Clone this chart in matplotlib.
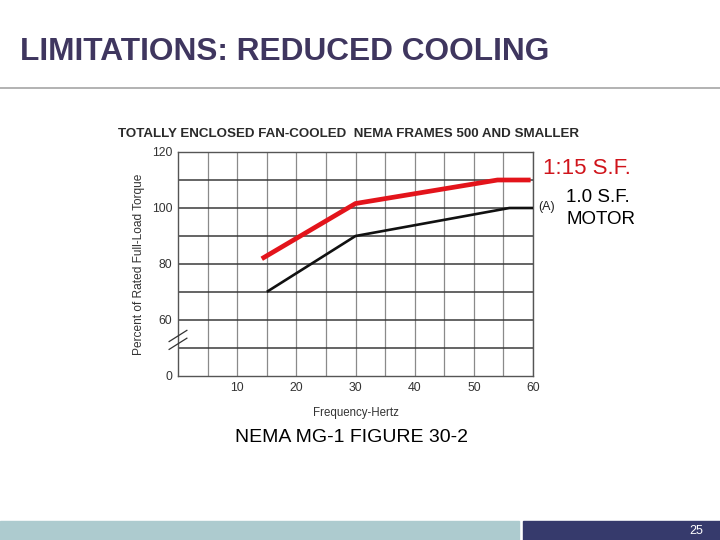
import matplotlib
matplotlib.use("Agg")
import matplotlib.pyplot as plt
from matplotlib.patches import Rectangle
from matplotlib.lines import Line2D

plt.rcParams['font.family'] = ['Liberation Sans', 'DejaVu Sans']

# curve data (Hz, percent of rated torque); axis is broken below 60, "0" drawn at 40
sf115_hz = [14.5, 30, 54, 59.2]
sf115_torque = [82.3, 101.6, 110, 110]
sf10_hz = [15.2, 30, 56, 60]
sf10_torque = [70.3, 90, 100, 100]

x_ticks = [10, 20, 30, 40, 50, 60]
y_ticks = [40, 60, 80, 100, 120]
y_tick_labels = ["0", "60", "80", "100", "120"]

W, H = 720, 540
fig = plt.figure(figsize=(7.2, 5.4), dpi=100)

def fx(px):
    return px / W

def fy(py):
    return 1 - py / H

# slide title and rule
fig.text(fx(20), fy(52), "LIMITATIONS: REDUCED COOLING", fontsize=22.8,
         color="#3f365f", va="center", ha="left", fontweight="bold")
fig.add_artist(Line2D([0, 1], [fy(88), fy(88)], color="#a6a6a6", lw=1.2,
                      transform=fig.transFigure))

# chart
ax = fig.add_axes([fx(178), fy(376), fx(533) - fx(178), fy(152) - fy(376)])
ax.set_xlim(0, 60)
ax.set_ylim(40, 120)
for x in range(5, 61, 5):
    ax.axvline(x, color="#8a8a8a", lw=0.9, zorder=1)
for y in range(50, 121, 10):
    ax.axhline(y, color="#3a3a3a", lw=1.1, zorder=1)
ax.plot(sf10_hz, sf10_torque, color="#111111", lw=1.9, zorder=3)
ax.plot(sf115_hz, sf115_torque, color="#e3141b", lw=3.4, zorder=4)

ax.set_xticks(x_ticks)
ax.set_yticks(y_ticks)
ax.set_yticklabels(y_tick_labels)
ax.tick_params(length=0, labelsize=8.8, colors="#333333", pad=4)
for s in ax.spines.values():
    s.set_color("#555555")
    s.set_linewidth(1.0)

ax.set_xlabel("Frequency-Hertz", fontsize=8.3, color="#333333", labelpad=10)
ax.set_ylabel("Percent of Rated Full-Load Torque", fontsize=8.6, color="#333333", labelpad=5)

# axis break marks
for dy in (0, 2.8):
    ax.plot([-1.5, 1.5], [49.5 + dy, 53.5 + dy], color="#333333", lw=0.9,
            clip_on=False, zorder=5)

fig.text(fx(118), fy(134), "TOTALLY ENCLOSED FAN-COOLED  NEMA FRAMES 500 AND SMALLER",
         fontsize=9.6, fontweight="bold", color="#2a2a2a", va="center", ha="left")

# annotations
fig.text(fx(538), fy(207), "(A)", fontsize=9, color="#222222", va="center")
fig.text(fx(543), fy(168), "1:15 S.F.", fontsize=16, color="#d0141b", va="center")
fig.text(fx(566), fy(198), "1.0 S.F.", fontsize=13.5, color="black", va="center")
fig.text(fx(566), fy(219), "MOTOR", fontsize=13.5, color="black", va="center")
fig.text(fx(235), fy(437), "NEMA MG-1 FIGURE 30-2", fontsize=14, color="black", va="center")

# footer bars
bar_h = (H - 521) / H
fig.add_artist(Rectangle((0, 0), fx(519), bar_h, color="#adcbcf",
                         transform=fig.transFigure))
fig.add_artist(Rectangle((fx(523), 0), 1 - fx(523), bar_h, color="#363a6c",
                         transform=fig.transFigure))
fig.text(fx(703), fy(531), "25", fontsize=9, color="white", va="center", ha="right")

fig.savefig("out.png", dpi=100)
